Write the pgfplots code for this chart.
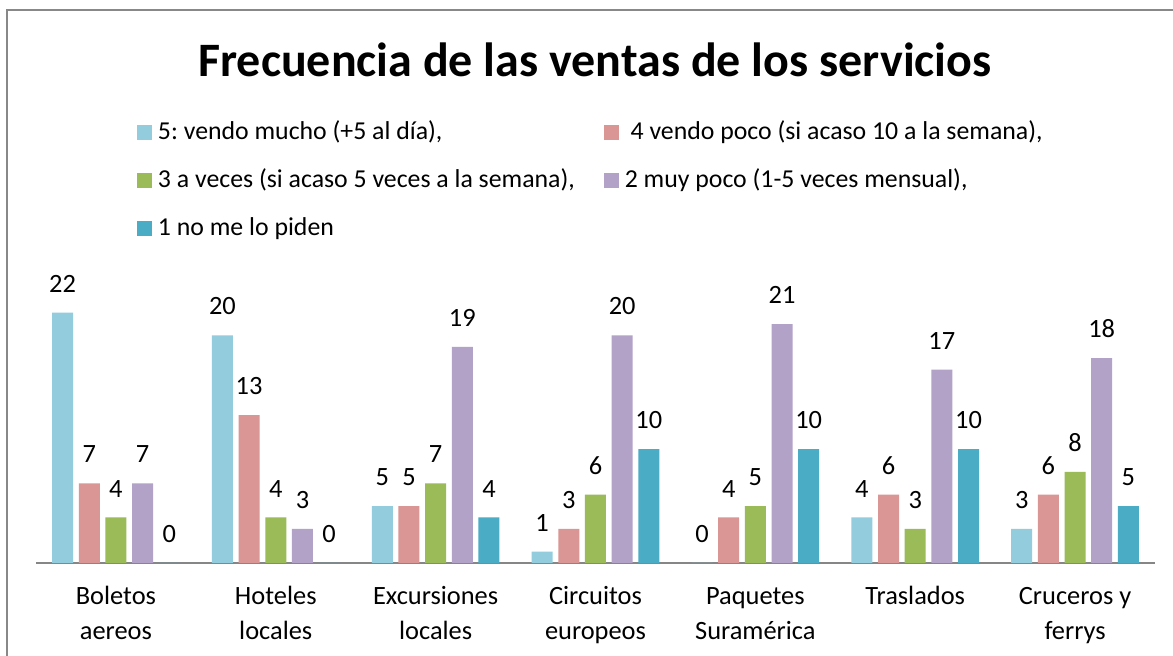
\documentclass[border=0pt]{standalone}
\usepackage{pgfplots}
\pgfplotsset{compat=1.18}
\usepackage{fontspec}
\setmainfont{Carlito}
\definecolor{cA}{HTML}{93CDDD}
\definecolor{cB}{HTML}{D99694}
\definecolor{cC}{HTML}{9BBB59}
\definecolor{cD}{HTML}{B3A2C7}
\definecolor{cE}{HTML}{4BACC6}
\definecolor{frameGray}{HTML}{888888}
\definecolor{axisGray}{HTML}{868686}
\begin{document}
\frenchspacing
\begin{tikzpicture}
\useasboundingbox (0,0) rectangle (586.5pt,328pt);
\fill[white] (0,0) rectangle (586.5pt,328pt);
\draw[color=frameGray, line width=1pt] (3.5pt,-2pt) -- (3.5pt,323pt) -- (592pt,323pt);
\node[anchor=base, font=\fontsize{24}{28}\selectfont\bfseries] at (297.5pt,289.5pt) {Frecuencia de las ventas de los servicios};
\begin{axis}[
  at={(18pt,46.5pt)}, anchor=south west,
  scale only axis, width=559.5pt, height=125.18pt,
  xmin=-0.5, xmax=6.5, ymin=0, ymax=22,
  clip=false,
  ybar=2.83pt, bar width=10.5pt,
  axis y line=none,
  axis x line=bottom,
  x axis line style={-, draw=axisGray, line width=1pt},
  ytick=\empty,
  xtick={0,1,2,3,4,5,6},
  xticklabels={{\strut Boletos\\aereos},{\strut Hoteles\\locales},{\strut Excursiones\\locales},{\strut Circuitos\\europeos},{\strut Paquetes\\Suramérica},{\strut Traslados},{\strut Cruceros y\\ferrys}},
  xticklabel style={align=center, font=\fontsize{13.2}{17.5}\selectfont, anchor=north, inner sep=0pt, yshift=-8.25pt},
  major tick length=0pt,
  nodes near coords,
  every node near coord/.append style={font=\fontsize{13.2}{15}\selectfont, inner sep=0pt, yshift=10pt, text=black},
  /pgf/number format/assume math mode=true,
  legend columns=2,
  legend cell align=left,
  legend style={at={(0.09026,1.7854)}, anchor=north west, draw=none, fill=none,
    inner sep=0pt, outer sep=0pt, font=\fontsize{12.9}{15}\selectfont,
    nodes={inner sep=2pt, text height=10pt, text depth=2.5pt},
    row sep=7.5pt, column sep=0pt,
    /tikz/every odd column/.append style={column sep=1pt},
    /tikz/every even column/.append style={column sep=12.5pt}},
  legend image code/.code={\fill[#1] (0pt,-3.75pt) rectangle (7.5pt,3.75pt);},
]
\addplot[fill=cA, draw=none] coordinates {(0,22) (1,20) (2,5) (3,1) (4,0) (5,4) (6,3)};
\addlegendentry{5: vendo mucho (+5 al día),}
\addplot[fill=cB, draw=none] coordinates {(0,7) (1,13) (2,5) (3,3) (4,4) (5,6) (6,6)};
\addlegendentry{\ 4 vendo poco (si acaso 10 a la semana),}
\addplot[fill=cC, draw=none] coordinates {(0,4) (1,4) (2,7) (3,6) (4,5) (5,3) (6,8)};
\addlegendentry{3 a veces (si acaso 5 veces a la semana),}
\addplot[fill=cD, draw=none] coordinates {(0,7) (1,3) (2,19) (3,20) (4,21) (5,17) (6,18)};
\addlegendentry{2 muy poco (1-5 veces mensual),}
\addplot[fill=cE, draw=none] coordinates {(0,0) (1,0) (2,4) (3,10) (4,10) (5,10) (6,5)};
\addlegendentry{1 no me lo piden}
\end{axis}
\end{tikzpicture}
\end{document}
